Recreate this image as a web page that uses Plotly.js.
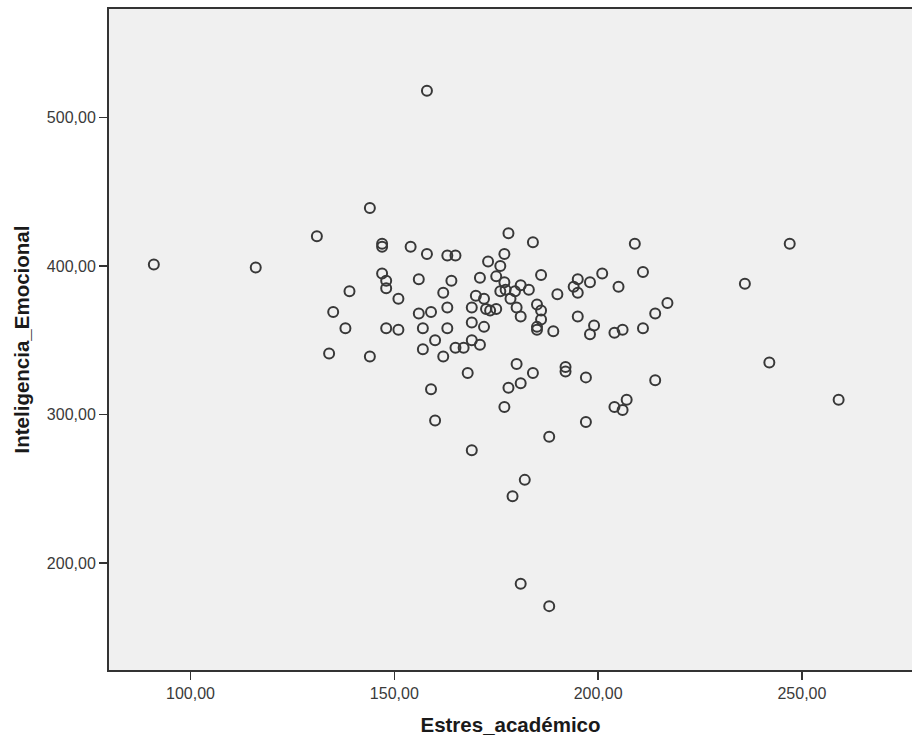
<!DOCTYPE html>
<html>
<head>
<meta charset="utf-8">
<script src="https://cdn.plot.ly/plotly-3.0.1.min.js"></script>
<style>html,body{margin:0;padding:0;background:#fff;}#chart{width:912px;height:742px;}</style>
</head>
<body>
<div id="chart"></div>
<script>
// Estres_académico values
const estres = [
  91, 116, 158, 144, 131, 147, 147, 154, 158, 163, 165, 178, 184, 177, 173, 176, 209, 247,
  147, 148, 148, 156, 139, 151, 164, 162, 171, 175, 177, 181, 186, 176, 177.3, 179.6, 178.5, 183,
  170, 172, 163, 169, 172.5, 173.5, 175, 180, 181, 185, 186, 186, 185, 185, 189, 190,
  194, 195, 195, 198, 201, 205, 211, 217, 214, 211, 204, 206, 199, 198, 195,
  169, 172, 163, 169, 171, 165, 167, 162, 180, 184, 192, 192, 197, 181, 178, 168, 214,
  177, 204, 207, 206, 197, 188, 236, 242, 259,
  135, 156, 159, 138, 148, 151, 157, 160, 157, 134, 144, 159, 160, 169, 182, 179, 181, 188
];
// Inteligencia_Emocional values
const inteligencia = [
  401, 399, 518, 439, 420, 415, 413, 413, 408, 407, 407, 422, 416, 408, 403, 400, 415, 415,
  395, 390, 385, 391, 383, 378, 390, 382, 392, 393, 389, 387, 394, 383, 384, 383, 378, 384,
  380, 378, 372, 372, 371, 370, 371, 372, 366, 374, 370, 364, 359, 357, 356, 381,
  386, 391, 382, 389, 395, 386, 396, 375, 368, 358, 355, 357, 360, 354, 366,
  362, 359, 358, 350, 347, 345, 345, 339, 334, 328, 332, 329, 325, 321, 318, 328, 323,
  305, 305, 310, 303, 295, 285, 388, 335, 310,
  369, 368, 369, 358, 358, 357, 358, 350, 344, 341, 339, 317, 296, 276, 256, 245, 186, 171
];
const xTitle = "Estres_académico";
const yTitle = "Inteligencia_Emocional";

const trace = {
  x: estres,
  y: inteligencia,
  type: "scatter",
  mode: "markers",
  marker: {
    symbol: "circle-open",
    size: 10,
    color: "#383838",
    line: {width: 2, color: "#383838"}
  },
  hoverinfo: "x+y"
};

const titleFont = {size: 20.5, color: "#1a1a1a", family: "Liberation Sans, Arial, sans-serif", weight: "bold"};

const layout = {
  width: 912,
  height: 742,
  margin: {l: 109, r: 0, t: 9, b: 72, pad: 0},
  paper_bgcolor: "#ffffff",
  plot_bgcolor: "#f0f0f0",
  separators: ",.",
  showlegend: false,
  font: {family: "Liberation Sans, Arial, sans-serif", color: "#333"},
  xaxis: {
    range: [80, 277],
    tickvals: [100, 150, 200, 250],
    tickformat: ".2f",
    ticks: "outside",
    ticklen: 8,
    tickwidth: 1.5,
    tickcolor: "#333",
    showgrid: false,
    zeroline: false,
    showline: true,
    linecolor: "#333",
    linewidth: 2,
    mirror: true,
    tickfont: {size: 16, color: "#3a3a3a"},
    title: {text: xTitle, font: titleFont, standoff: 16}
  },
  yaxis: {
    range: [128, 573],
    tickvals: [200, 300, 400, 500],
    tickformat: ".2f",
    ticks: "outside",
    ticklen: 8,
    tickwidth: 1.5,
    tickcolor: "#333",
    showgrid: false,
    zeroline: false,
    showline: true,
    linecolor: "#333",
    linewidth: 2,
    mirror: false,
    tickfont: {size: 16, color: "#3a3a3a"},
    title: {text: yTitle, font: titleFont, standoff: 12}
  }
};

Plotly.newPlot("chart", [trace], layout, {displayModeBar: false, staticPlot: true});
</script>
</body>
</html>
